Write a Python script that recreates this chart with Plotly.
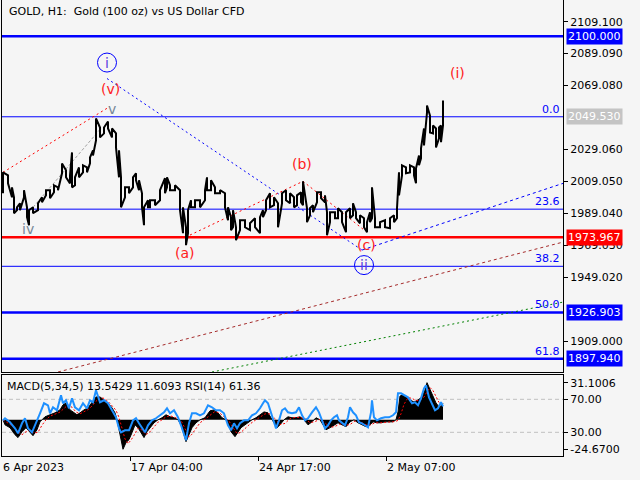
import plotly.graph_objects as go

# ---------------- data (bar position ~ hourly bar index, prices in USD) ----------------
bar = [3, 8, 12, 14, 17, 20, 24, 27, 29, 33, 38, 42, 46, 50, 54, 58, 62, 66, 70, 72, 75, 79, 83, 87, 90, 93,
       96, 100, 104, 108, 112, 116, 119, 121, 125, 129, 133, 136, 139, 142, 144, 148, 150, 155, 160, 165, 167,
       170, 175, 180, 183, 186, 188, 191, 195, 200, 205, 207, 211, 215, 220, 225, 228, 231, 233, 236, 240, 245,
       250, 255, 260, 263, 266, 270, 274, 278, 282, 286, 290, 294, 297, 301, 303, 307, 310, 313, 317, 321, 325,
       327, 330, 335, 338, 342, 346, 350, 353, 356, 360, 364, 367, 370, 372, 375, 380, 385, 390, 394, 397, 399,
       402, 406, 410, 414, 416, 419, 421, 424, 427, 430, 433, 436, 439, 441, 443]
high = [2014.7, 2012.8, 2005.3, 1999.1, 1992.8, 1995.3, 2003.5, 1992.8, 1991.0, 1992.8, 1995.3, 1999.1, 2003.5,
        2003.5, 2006.6, 2005.3, 2020.3, 2016.0, 2012.8, 2027.2, 2011.6, 2017.8, 2019.1, 2017.8, 2024.1, 2028.5,
        2048.5, 2042.8, 2042.8, 2046.6, 2042.2, 2039.1, 2028.5, 2011.6, 2005.3, 2005.3, 2011.6, 2014.1, 2009.7,
        2001.6, 1992.8, 1997.2, 1997.2, 1997.2, 2003.5, 2011.0, 2011.6, 2006.6, 2006.6, 2003.5, 1992.8, 1980.3,
        1991.0, 1997.2, 1997.2, 1997.2, 2003.5, 2011.6, 2009.7, 2005.3, 2003.5, 2001.6, 1992.8, 1986.6, 1991.0,
        1980.3, 1984.7, 1984.7, 1982.8, 1986.0, 1986.6, 1991.0, 1997.2, 2001.6, 1999.1, 1995.3, 2001.6, 2003.5,
        2001.6, 1999.1, 2000.3, 2002.2, 2009.1, 1992.2, 1992.2, 1994.1, 2002.2, 2002.2, 2000.3, 1989.7, 1989.7,
        1989.7, 1992.2, 1989.7, 1989.7, 1992.2, 1995.3, 1989.7, 1987.8, 1986.0, 1983.5, 1989.7, 2005.3, 1986.0,
        1983.5, 1984.7, 1986.0, 1987.8, 1992.2, 2014.7, 2019.1, 2017.8, 2019.1, 2017.8, 2017.2, 2025.3, 2029.7,
        2042.2, 2056.6, 2050.3, 2044.1, 2042.2, 2042.8, 2044.1, 2059.7]
low = [2001.6, 2007.8, 1999.1, 1989.1, 1991.0, 1991.0, 1999.1, 1986.6, 1981.6, 1989.1, 1991.0, 1996.0, 2000.3,
       1998.5, 2002.2, 2003.5, 2014.1, 2011.6, 2007.8, 2005.3, 2006.6, 2011.6, 2014.7, 2014.7, 2020.3, 2025.3,
       2034.7, 2036.6, 2039.1, 2042.2, 2036.6, 2030.3, 2011.6, 1992.8, 1999.1, 2001.6, 2005.3, 2009.7, 2003.5,
       1992.8, 1981.6, 1992.8, 1992.8, 1994.1, 1997.2, 2001.6, 2005.3, 2003.5, 2003.5, 1991.0, 1976.6, 1969.1,
       1976.6, 1992.8, 1992.8, 1992.8, 1997.2, 2003.5, 2003.5, 2001.6, 2001.6, 1992.8, 1984.7, 1978.5, 1980.3,
       1972.2, 1978.5, 1980.3, 1978.5, 1980.3, 1976.6, 1986.6, 1991.0, 1992.8, 1994.1, 1980.3, 1995.3, 1997.2,
       1995.3, 1992.8, 1994.1, 1996.0, 1994.1, 1983.5, 1987.8, 1989.7, 1996.0, 1998.5, 1996.0, 1975.3, 1983.5,
       1986.0, 1986.0, 1983.5, 1977.2, 1986.0, 1987.8, 1986.0, 1982.8, 1980.3, 1977.2, 1983.5, 1986.0, 1980.3,
       1980.3, 1980.3, 1979.7, 1983.5, 1986.0, 2000.3, 2012.8, 2014.1, 2014.7, 2012.8, 2007.8, 2019.1, 2023.5,
       2031.6, 2052.2, 2039.7, 2039.1, 2030.3, 2036.0, 2033.6, 2044.1]

macd_bar = [3, 5, 10, 15, 18, 22, 26, 30, 33, 37, 40, 42, 45, 50, 55, 60, 63, 66, 70, 73, 77, 80, 84, 88, 92, 96,
            100, 104, 108, 112, 115, 117, 119, 121, 123, 126, 129, 132, 135, 138, 141, 144, 147, 150, 154, 158,
            162, 166, 170, 174, 178, 181, 184, 186, 189, 192, 196, 200, 205, 210, 214, 218, 222, 226, 229, 231,
            235, 238, 241, 245, 249, 252, 256, 260, 264, 268, 271, 274, 277, 280, 284, 288, 292, 296, 300, 304,
            308, 312, 316, 320, 323, 326, 330, 334, 338, 342, 346, 350, 354, 358, 362, 366, 370, 373, 377, 381,
            385, 389, 393, 396, 398, 400, 403, 406, 410, 414, 418, 422, 425, 427, 430, 433, 436, 439, 441, 443]
macd_hist = [0, -4.2, -6.6, -12.5, -14.9, -10.0, -6.6, -10.8, -13.3, -8.3, -1.7, 0, 2.5, 4.2, 5.8, 8.3, 12.5,
             14.1, 8.3, 6.6, 4.2, 5.8, 8.3, 10.0, 14.1, 19.1, 19.1, 16.6, 14.1, 10.0, 5.8, 0, -8.3, -14.1, -24.67,
             -19.1, -16.6, -10.8, -4.2, -6.6, -10.8, -14.9, -10.0, -6.6, -2.5, 0, 1.7, 4.2, 2.5, 1.7, 0, -4.2,
             -12.5, -18.3, -12.5, -6.6, -2.5, 0, 1.7, 7.5, 8.3, 5.8, 1.7, 0, -4.2, -10.0, -14.1, -10.8, -6.6,
             -4.2, -1.7, 0, 1.7, 4.2, 6.6, 5.8, 1.7, -1.7, -6.6, -4.2, 0, 2.5, 1.7, 1.7, 2.5, 0, -4.2, -1.7, 1.7,
             0, -4.2, -8.3, -6.6, -4.2, -2.5, -4.2, -5.8, -1.7, 0, -2.5, -4.2, -5.8, -4.2, -1.7, -2.5, -2.5,
             -1.7, -1.7, -1.7, 0, 6.6, 19.9, 20.8, 19.1, 16.6, 14.9, 16.6, 19.1, 24.9, 31.1, 24.9, 19.1, 14.1,
             10.8, 11.6, 13.5429]

sig_bar = [3, 8, 13, 18, 22, 26, 30, 34, 38, 42, 46, 50, 55, 60, 64, 68, 72, 76, 80, 84, 88, 92, 96, 100, 104,
           108, 112, 116, 119, 122, 125, 128, 131, 134, 138, 142, 146, 150, 154, 158, 162, 166, 170, 174, 178,
           182, 186, 189, 192, 196, 200, 205, 210, 215, 220, 225, 229, 233, 237, 241, 245, 250, 255, 260, 265,
           270, 275, 280, 285, 290, 295, 300, 305, 310, 315, 320, 325, 330, 335, 340, 345, 350, 355, 360, 365,
           370, 375, 380, 385, 390, 395, 398, 401, 404, 408, 412, 416, 420, 424, 427, 430, 433, 436, 439, 443]
sig_val = [0, -2.5, -5.5, -10.0, -12.5, -10.0, -8.5, -11.0, -10.5, -4.5, 0.0, 3.0, 4.5, 6.5, 9.5, 12.5, 10.5,
           6.5, 5.0, 6.5, 8.5, 11.5, 15.5, 18.5, 18.0, 15.5, 12.0, 8.0, 2.0, -7.0, -16.0, -20.0, -17.0, -13.0,
           -7.0, -8.5, -12.5, -10.0, -6.0, -2.0, 0.0, 2.5, 3.5, 2.5, 1.0, -2.0, -9.0, -14.5, -12.0, -7.0, -2.5,
           0.5, 4.0, 7.0, 5.5, 2.0, -1.0, -6.5, -11.5, -10.5, -7.0, -3.5, -0.5, 2.0, 5.0, 5.0, 1.0, -4.0, -3.0,
           1.0, 2.0, 2.0, 1.0, -2.5, -1.5, 0.5, -2.5, -6.5, -5.5, -3.5, -4.5, -4.0, -1.0, -1.5, -4.0, -4.5, -2.5,
           -2.5, -2.0, -1.7, -1.5, -0.5, 5.0, 13.0, 18.5, 18.0, 16.0, 16.5, 19.0, 23.5, 27.0, 24.5, 19.0, 14.5,
           11.6093]

rsi_bar = [3, 5, 10, 15, 18, 22, 25, 28, 32, 36, 40, 44, 48, 50, 53, 57, 61, 63, 66, 69, 72, 75, 79, 83, 87, 90,
           93, 96, 100, 104, 108, 112, 116, 119, 121, 125, 129, 133, 136, 139, 142, 145, 148, 152, 156, 160, 164,
           167, 170, 174, 178, 181, 184, 186, 189, 192, 196, 200, 204, 208, 212, 216, 220, 224, 228, 231, 234,
           237, 240, 244, 248, 252, 256, 260, 263, 265, 268, 271, 274, 276, 279, 282, 285, 288, 292, 296, 299,
           302, 305, 308, 312, 316, 319, 322, 325, 328, 331, 334, 337, 339, 342, 345, 348, 350, 353, 356, 359,
           362, 365, 368, 371, 372, 374, 377, 381, 385, 389, 393, 396, 398, 401, 404, 408, 412, 415, 418, 421,
           424, 426, 429, 432, 435, 438, 441, 443]
rsi_val = [44.5, 47.0, 42.1, 34.8, 28.8, 40.9, 47.0, 34.8, 30.0, 40.9, 53.0, 65.2, 62.7, 53.0, 60.3, 56.7, 74.8,
           65.2, 68.8, 59.1, 71.2, 60.3, 56.7, 65.2, 59.1, 68.8, 66.4, 80.9, 66.4, 68.8, 65.2, 56.7, 48.2, 34.8,
           30.0, 32.4, 32.4, 44.5, 47.0, 40.9, 34.8, 30.0, 38.5, 44.5, 47.0, 50.6, 54.2, 59.1, 53.0, 56.7, 48.2,
           38.5, 28.8, 20.3, 40.9, 53.0, 53.0, 50.6, 53.0, 62.7, 60.3, 56.7, 56.7, 53.0, 38.5, 32.4, 40.9, 34.8,
           40.9, 44.5, 44.5, 50.6, 53.0, 59.1, 65.2, 68.8, 65.2, 54.2, 44.5, 34.8, 44.5, 56.7, 59.1, 54.2, 53.0,
           54.2, 60.3, 50.6, 44.5, 47.0, 54.2, 60.3, 54.2, 44.5, 34.8, 38.5, 44.5, 48.2, 50.6, 44.5, 40.9, 38.5,
           48.2, 60.3, 54.2, 50.6, 42.1, 40.9, 38.5, 36.1, 54.2, 68.8, 48.2, 44.5, 47.0, 48.2, 48.2, 50.6, 54.2,
           77.3, 77.3, 74.8, 72.4, 65.2, 66.4, 62.7, 71.2, 83.3, 87.0, 72.4, 65.2, 56.7, 59.1, 66.4, 61.36]

date_ticks = [2, 130, 258, 386]
date_labels = ["6 Apr 2023", "17 Apr 04:00", "24 Apr 17:00", "2 May 07:00"]

price_ticks = [2109.100, 2089.090, 2069.080, 2029.060, 2009.050, 1989.040, 1969.030, 1949.020, 1909.000]

fib_names = ["0.0", "23.6", "38.2", "50.0", "61.8"]
fib_prices = [2049.530, 1991.640, 1955.830, 1926.903, 1897.940]
fib_widths = [1, 1, 1, 2.5, 2.5]

level_prices = [2100.000, 1973.967]
level_colors = ["#0000ff", "#ff0000"]

box_prices = [2100.000, 2049.530, 1973.967, 1926.903, 1897.940]
box_colors = ["#0000ff", "#c4c4c4", "#ff0000", "#0000ff", "#0000ff"]

# trend lines: (bars, prices, colour, dash)
trend_lines = [
    ([3, 110], [2014.7, 2056.0], "#ff0000", "2px,3px"),
    ([33, 100], [1992.8, 2041.6], "#a0a0a0", "3px,2px"),
    ([107, 362], [2073.5, 1966.0], "#0000ff", "2px,3px"),
    ([362, 563], [1966.0, 2007.8], "#0000ff", "3px,3px"),
    ([190, 303, 363], [1975.4, 2009.1, 1979.1], "#ff0000", "2px,3px"),
    ([58, 563], [1889.6, 1971.0], "#a52a2a", "3px,3px"),
    ([212, 563], [1889.6, 1933.4], "#008000", "2px,3px"),
]

wave_text = ["(v)", "v", "iv", "(a)", "(b)", "(c)", "(i)"]
wave_bar = [110, 112, 28, 185, 302, 366, 457]
wave_price = [2067.2, 2054.1, 1979.1, 1964.1, 2019.7, 1969.1, 2077.2]
wave_color = ["#ff2020", "#778899", "#778899", "#ff2020", "#ff2020", "#ff2020", "#ff2020"]

circ_text = ["i", "ii"]
circ_bar = [107, 364]
circ_price = [2083.5, 1956.6]

# ---------------- geometry ----------------
W, H = 640, 480
ML, MR, MT, MB = 2, 77, 0, 24
PW = W - ML - MR
PH = H - MT - MB


def pxX(px):
    return (px - ML) / PW


def pxY(py):
    return 1 - (py - MT) / PH


main_dom = [pxY(372), 1]
sub_dom = [0, pxY(375)]
FONT = "DejaVu Sans"

fig = go.Figure()

for xs, ys, col, dash in trend_lines:
    fig.add_trace(go.Scatter(x=xs, y=ys, mode="lines", line=dict(color=col, width=1, dash=dash),
                             xaxis="x", yaxis="y", hoverinfo="skip"))

# price as a jagged high/low path
zx, zy = [], []
for i, (b, h, l) in enumerate(zip(bar, high, low)):
    zx += [b, b]
    zy += ([l, h] if i % 2 == 0 else [h, l])
fig.add_trace(go.Scatter(x=zx, y=zy, mode="lines", line=dict(color="black", width=2),
                         xaxis="x", yaxis="y", hoverinfo="skip"))

# MACD histogram, RSI, signal
fig.add_trace(go.Scatter(x=macd_bar, y=macd_hist, mode="lines", fill="tozeroy", fillcolor="black",
                         line=dict(color="black", width=1), xaxis="x2", yaxis="y2", hoverinfo="skip"))
fig.add_trace(go.Scatter(x=rsi_bar, y=rsi_val, mode="lines", line=dict(color="#1e90ff", width=2),
                         xaxis="x2", yaxis="y3", hoverinfo="skip"))
fig.add_trace(go.Scatter(x=sig_bar, y=sig_val, mode="lines", line=dict(color="#ff0000", width=1, dash="2px,2px"),
                         xaxis="x2", yaxis="y2", hoverinfo="skip"))

shapes = []
for p, c in zip(level_prices, level_colors):
    shapes.append(dict(type="line", xref="x domain", yref="y", x0=0, x1=1, y0=p, y1=p,
                       line=dict(color=c, width=2.5), layer="below"))
for p, w in zip(fib_prices, fib_widths):
    shapes.append(dict(type="line", xref="x domain", yref="y", x0=0, x1=1, y0=p, y1=p,
                       line=dict(color="#0000ff", width=w), layer="below"))
for r in [70, 30]:
    shapes.append(dict(type="line", xref="x2 domain", yref="y3", x0=0, x1=1, y0=r, y1=r,
                       line=dict(color="#c0c0c0", width=1, dash="4px,3px"), layer="below"))
for b, p in zip(circ_bar, circ_price):
    shapes.append(dict(type="circle", xref="x", yref="y", xsizemode="pixel", ysizemode="pixel",
                       xanchor=b, yanchor=p, x0=-9.5, x1=9.5, y0=-9.5, y1=9.5,
                       line=dict(color="#0000ff", width=1)))

ann = []
ann.append(dict(text="GOLD, H1:  Gold (100 oz) vs US Dollar CFD", xref="paper", yref="paper",
                x=pxX(7), y=pxY(12), xanchor="left", yanchor="middle", showarrow=False,
                font=dict(family=FONT, size=11, color="black")))
ann.append(dict(text="MACD(5,34,5) 13.5429 11.6093 RSI(14) 61.36", xref="paper", yref="paper",
                x=pxX(5), y=pxY(386), xanchor="left", yanchor="middle", showarrow=False,
                font=dict(family=FONT, size=11, color="black")))
for t, b in zip(date_labels, date_ticks):
    ann.append(dict(text=t, xref="x2", yref="paper", x=b, y=pxY(467), xanchor="left", yanchor="middle",
                    showarrow=False, xshift=-1, font=dict(family=FONT, size=11, color="black")))
for t, p in zip(fib_names, fib_prices):
    ann.append(dict(text=t, xref="paper", yref="y", x=1, y=p, xanchor="right", yanchor="bottom",
                    xshift=-1, yshift=-1, showarrow=False, font=dict(family=FONT, size=11, color="#0000ff")))
for p, c in zip(box_prices, box_colors):
    ann.append(dict(text=f"{p:.3f}", xref="paper", yref="y", x=1, y=p, xanchor="left", yanchor="middle",
                    xshift=3, showarrow=False, bgcolor=c, borderpad=1,
                    font=dict(family=FONT, size=11, color="white")))
for t, b, p, c in zip(wave_text, wave_bar, wave_price, wave_color):
    ann.append(dict(text=t, xref="x", yref="y", x=b, y=p, showarrow=False,
                    font=dict(family=FONT, size=14, color=c)))
for t, b, p in zip(circ_text, circ_bar, circ_price):
    ann.append(dict(text=t, xref="x", yref="y", x=b, y=p, showarrow=False,
                    font=dict(family=FONT, size=14, color="#5b3fe0")))

axis_common = dict(showgrid=False, zeroline=False, linecolor="black", linewidth=1, tickcolor="black",
                   tickfont=dict(family=FONT, size=11, color="black"))

fig.update_layout(
    width=W, height=H, margin=dict(l=ML, r=MR, t=MT, b=MB),
    paper_bgcolor="#f5f5f5", plot_bgcolor="#f5f5f5",
    showlegend=False, hovermode=False,
    xaxis=dict(domain=[0, 1], range=[2, 563], anchor="y", showticklabels=False, ticks="",
               showline=True, **axis_common),
    yaxis=dict(domain=main_dom, range=[1889.6, 2122.7], side="right", anchor="x",
               tickvals=price_ticks, ticktext=[f"{v:.3f}" for v in price_ticks],
               ticks="outside", ticklen=4, showline=True, mirror=True, **axis_common),
    xaxis2=dict(domain=[0, 1], range=[2, 563], anchor="y2", tickvals=date_ticks[1:], ticks="outside",
                ticklen=4, showticklabels=False, showline=True, mirror=True, **axis_common),
    yaxis2=dict(domain=sub_dom, range=[-30.3, 37.5], side="right", anchor="x2",
                tickvals=[31.1006, -24.67], ticktext=["31.1006", "-24.6700"],
                ticks="outside", ticklen=4, showline=True, mirror=True, **axis_common),
    yaxis3=dict(overlaying="y2", range=[1.27, 99.45], side="right", anchor="x2",
                tickvals=[70, 30], ticktext=["70.00", "30.00"], ticks="outside", ticklen=4,
                showline=False, **axis_common),
    shapes=shapes, annotations=ann,
)

fig.write_html("out.html", config={"displayModeBar": False},
               post_script="document.body.style.margin='0';document.body.style.background='#f5f5f5';")
